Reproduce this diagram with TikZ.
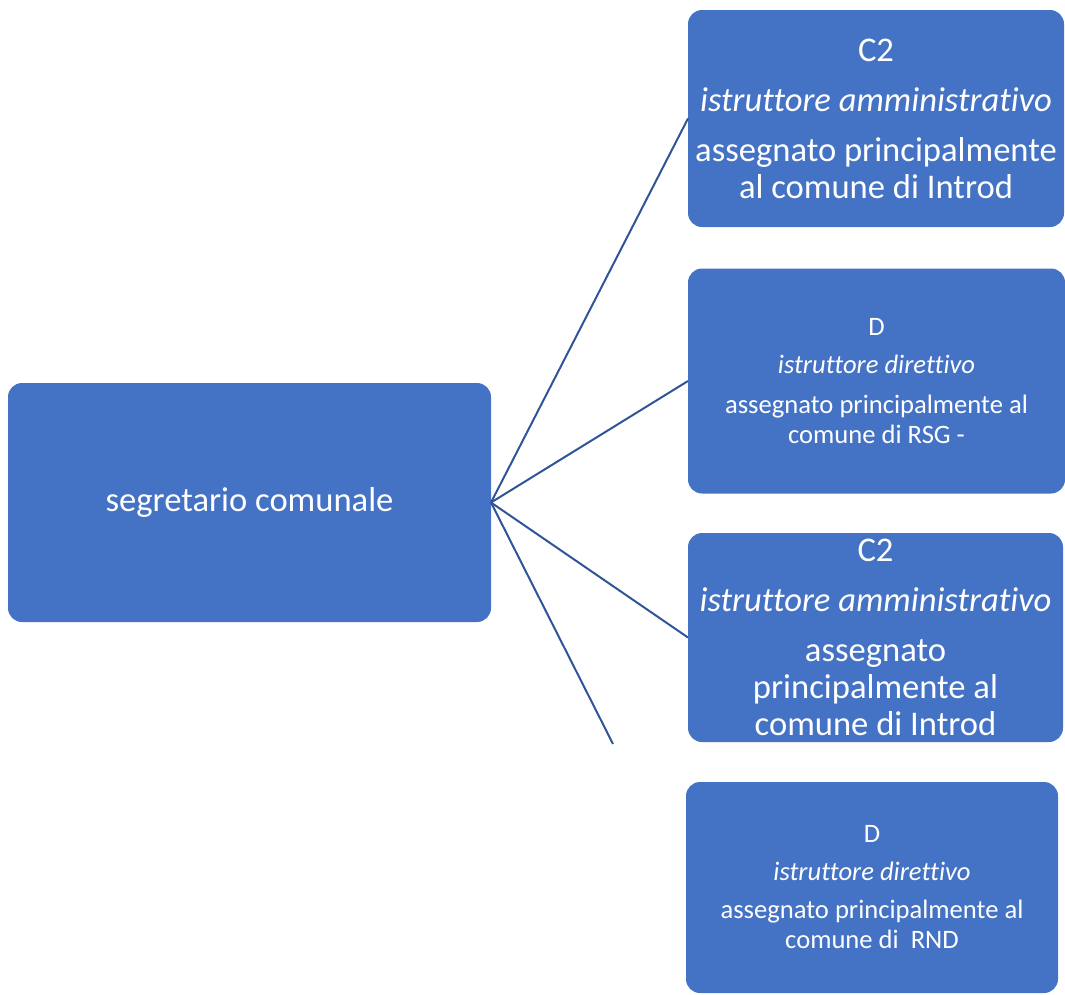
\documentclass[tikz,border=0pt]{standalone}
\usepackage{fontspec}
\setmainfont{Carlito}[Ligatures={NoCommon}]
\usepackage{tikz}
\definecolor{boxblue}{HTML}{4472C4}
\definecolor{lineblue}{HTML}{2F5597}
\tikzset{rolebox/.style={rectangle,rounded corners=14pt,fill=boxblue,text=white,
    inner sep=0pt,outer sep=0pt,align=center},
  bigtext/.style={font=\fontsize{34.6}{37}\selectfont},
  smalltext/.style={font=\fontsize{26.6}{30}\selectfont},
  link/.style={draw=lineblue,line width=2pt}}

\begin{document}
\begin{tikzpicture}[x=1pt,y=-1pt]
\useasboundingbox (0,0) rectangle (1065,994);
% left: the secretary
\node[rolebox,bigtext,minimum width=483pt,minimum height=239pt] (seg) at (249.5,502.5)
  {segretario comunale};
% right column
\node[rolebox,bigtext,minimum width=376pt,minimum height=217pt] (introda) at (876,118.5)
  {C2\\[13pt]\textit{istruttore amministrativo}\\[13pt]
   assegnato principalmente\\al comune di Introd};
\node[rolebox,smalltext,minimum width=377pt,minimum height=225pt] (rsg) at (876.5,381)
  {D\\[8pt]\textit{istruttore direttivo}\\[10pt]
   assegnato principalmente al\\comune di RSG -};
\node[rolebox,bigtext,minimum width=375pt,minimum height=209pt] (introdb) at (875.5,637.5)
  {C2\\[13pt]\textit{istruttore amministrativo}\\[13pt]
   assegnato\\principalmente al\\comune di Introd};
\node[rolebox,smalltext,minimum width=372pt,minimum height=211pt] (rnd) at (872,887.5)
  {D\\[8pt]\textit{istruttore direttivo}\\[8pt]
   assegnato principalmente al\\comune di~ RND};
\coordinate (loose) at (613,744);
\draw[link] (seg.east) -- (introda.west);
\draw[link] (seg.east) -- (rsg.west);
\draw[link] (seg.east) -- (introdb.west);
\draw[link] (seg.east) -- (loose);
\end{tikzpicture}
\end{document}
